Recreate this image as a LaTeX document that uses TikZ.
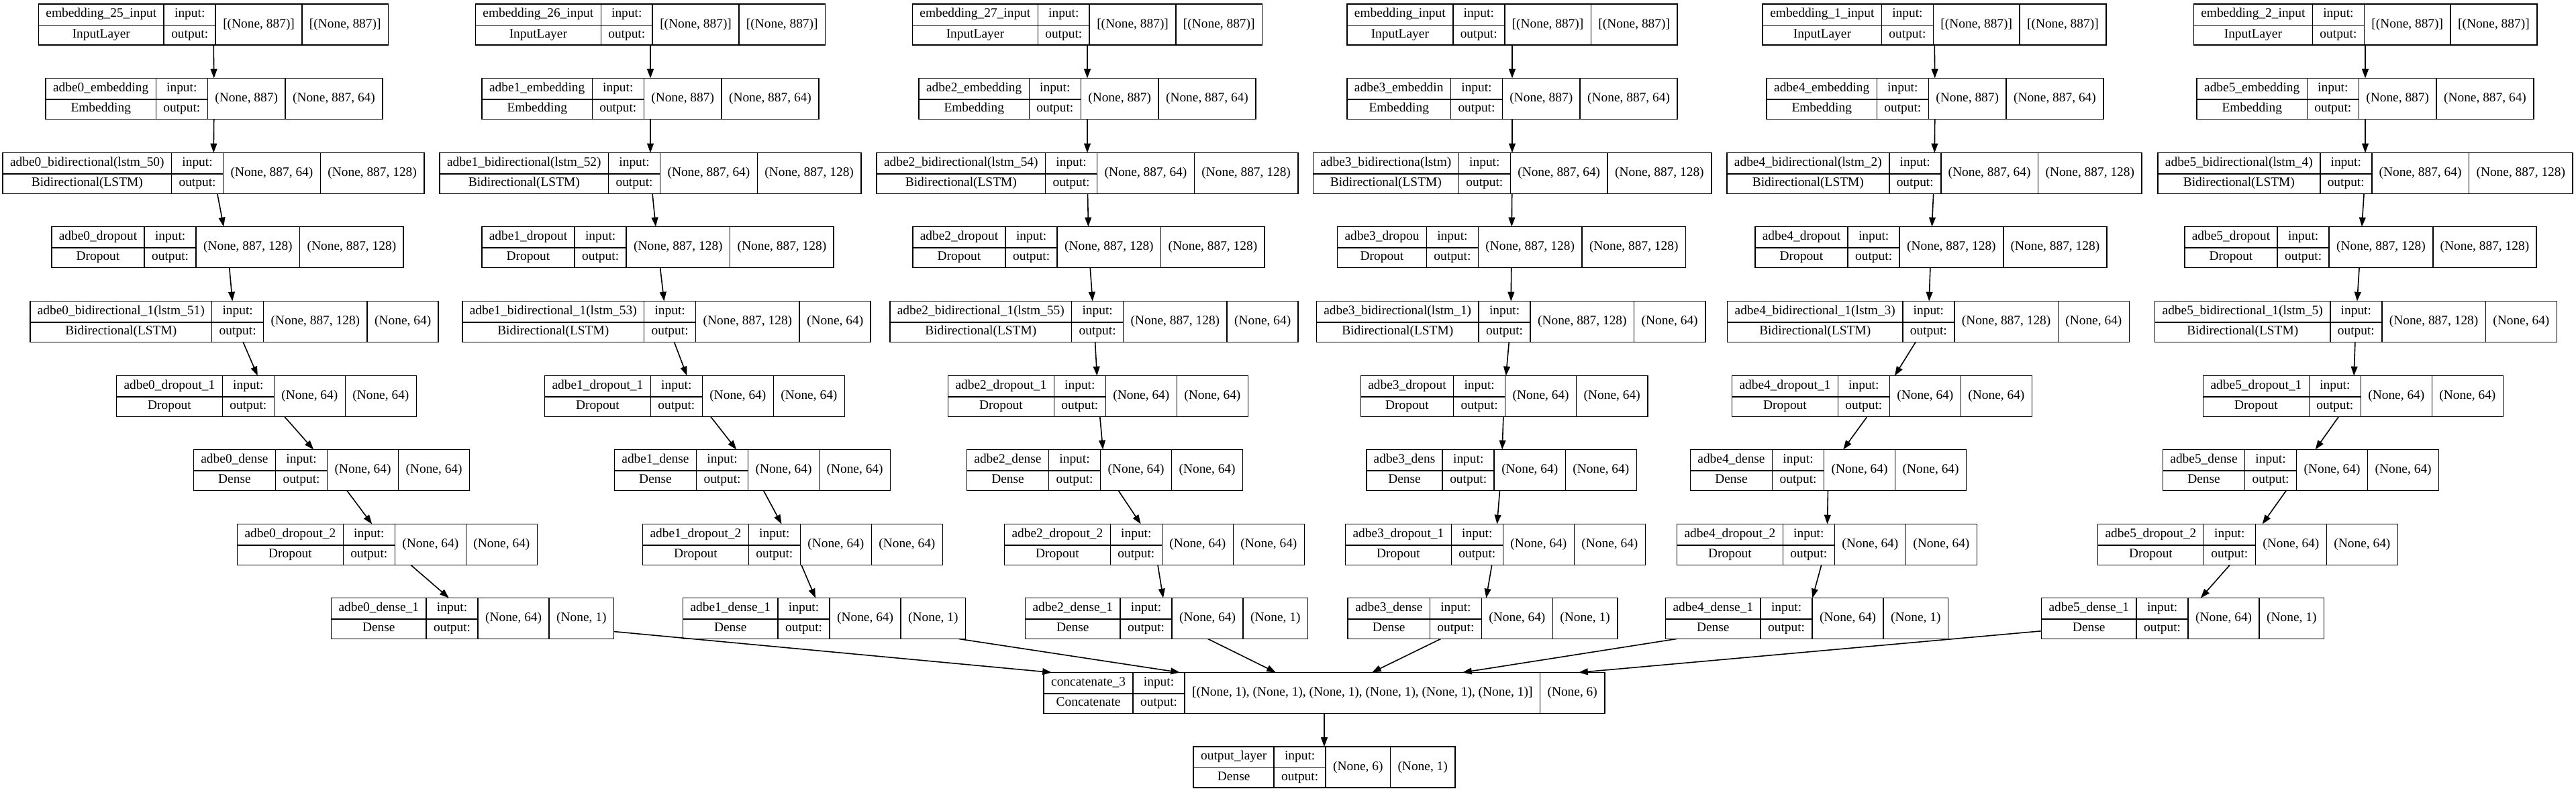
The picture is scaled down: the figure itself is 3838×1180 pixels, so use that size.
\documentclass[tikz,border=0pt]{standalone}
\usepackage{fontspec}
\setmainfont{Liberation Serif}
\usetikzlibrary{arrows.meta}

\setlength{\tabcolsep}{5.5pt}
\setlength{\arrayrulewidth}{0.8pt}
\newcommand{\rowstrut}{\rule[-5.35pt]{0pt}{15.25pt}}
\newcommand{\shp}[1]{\raisebox{-7.65pt}[0pt][0pt]{#1}}
\newcommand{\lyr}[4]{\begin{tabular}{c|c|c|c}
  \rowstrut#1 & input: & \shp{#3} & \shp{#4}\\ \cline{1-2}
  \rowstrut#2 & output: & & \end{tabular}}

\begin{document}
\begin{tikzpicture}[x=0.5pt,y=-0.5pt]
  \tikzstyle{layer}=[draw,line width=0.8pt,inner sep=0pt,outer sep=0pt,font=\fontsize{9.7}{11.6}\selectfont]
  \tikzstyle{every edge}=[draw,line width=0.8pt,-{Triangle[length=6.9pt,width=4.9pt]}]
  \useasboundingbox (0,0) rectangle (3838,1180);

  % branch 0
  \draw (318,36.5) node[layer] (inp0) {\lyr{embedding\_25\_input}{InputLayer}{[(None, 887)]}{[(None, 887)]}};
  \draw (319,147) node[layer] (emb0) {\lyr{adbe0\_embedding}{Embedding}{(None, 887)}{(None, 887, 64)}};
  \draw (318,258) node[layer] (bia0) {\lyr{adbe0\_bidirectional(lstm\_50)}{Bidirectional(LSTM)}{(None, 887, 64)}{(None, 887, 128)}};
  \draw (339,368) node[layer] (dra0) {\lyr{adbe0\_dropout}{Dropout}{(None, 887, 128)}{(None, 887, 128)}};
  \draw (349,479) node[layer] (bib0) {\lyr{adbe0\_bidirectional\_1(lstm\_51)}{Bidirectional(LSTM)}{(None, 887, 128)}{(None, 64)}};
  \draw (397,590) node[layer] (drb0) {\lyr{adbe0\_dropout\_1}{Dropout}{(None, 64)}{(None, 64)}};
  \draw (494,700) node[layer] (dea0) {\lyr{adbe0\_dense}{Dense}{(None, 64)}{(None, 64)}};
  \draw (577,811) node[layer] (drc0) {\lyr{adbe0\_dropout\_2}{Dropout}{(None, 64)}{(None, 64)}};
  \draw (704,921) node[layer] (deb0) {\lyr{adbe0\_dense\_1}{Dense}{(None, 64)}{(None, 1)}};

  % branch 1
  \draw (969,36.5) node[layer] (inp1) {\lyr{embedding\_26\_input}{InputLayer}{[(None, 887)]}{[(None, 887)]}};
  \draw (969,147) node[layer] (emb1) {\lyr{adbe1\_embedding}{Embedding}{(None, 887)}{(None, 887, 64)}};
  \draw (969,258) node[layer] (bia1) {\lyr{adbe1\_bidirectional(lstm\_52)}{Bidirectional(LSTM)}{(None, 887, 64)}{(None, 887, 128)}};
  \draw (980,368) node[layer] (dra1) {\lyr{adbe1\_dropout}{Dropout}{(None, 887, 128)}{(None, 887, 128)}};
  \draw (993,479) node[layer] (bib1) {\lyr{adbe1\_bidirectional\_1(lstm\_53)}{Bidirectional(LSTM)}{(None, 887, 128)}{(None, 64)}};
  \draw (1035,590) node[layer] (drb1) {\lyr{adbe1\_dropout\_1}{Dropout}{(None, 64)}{(None, 64)}};
  \draw (1121,700) node[layer] (dea1) {\lyr{adbe1\_dense}{Dense}{(None, 64)}{(None, 64)}};
  \draw (1181,811) node[layer] (drc1) {\lyr{adbe1\_dropout\_2}{Dropout}{(None, 64)}{(None, 64)}};
  \draw (1228,921) node[layer] (deb1) {\lyr{adbe1\_dense\_1}{Dense}{(None, 64)}{(None, 1)}};

  % branch 2
  \draw (1620,36.5) node[layer] (inp2) {\lyr{embedding\_27\_input}{InputLayer}{[(None, 887)]}{[(None, 887)]}};
  \draw (1620,147) node[layer] (emb2) {\lyr{adbe2\_embedding}{Embedding}{(None, 887)}{(None, 887, 64)}};
  \draw (1620,258) node[layer] (bia2) {\lyr{adbe2\_bidirectional(lstm\_54)}{Bidirectional(LSTM)}{(None, 887, 64)}{(None, 887, 128)}};
  \draw (1622,368) node[layer] (dra2) {\lyr{adbe2\_dropout}{Dropout}{(None, 887, 128)}{(None, 887, 128)}};
  \draw (1630,479) node[layer] (bib2) {\lyr{adbe2\_bidirectional\_1(lstm\_55)}{Bidirectional(LSTM)}{(None, 887, 128)}{(None, 64)}};
  \draw (1636,590) node[layer] (drb2) {\lyr{adbe2\_dropout\_1}{Dropout}{(None, 64)}{(None, 64)}};
  \draw (1646,700) node[layer] (dea2) {\lyr{adbe2\_dense}{Dense}{(None, 64)}{(None, 64)}};
  \draw (1720,811) node[layer] (drc2) {\lyr{adbe2\_dropout\_2}{Dropout}{(None, 64)}{(None, 64)}};
  \draw (1738,921) node[layer] (deb2) {\lyr{adbe2\_dense\_1}{Dense}{(None, 64)}{(None, 1)}};

  % branch 3
  \draw (2253,36.5) node[layer] (inp3) {\lyr{embedding\_input}{InputLayer}{[(None, 887)]}{[(None, 887)]}};
  \draw (2253,147) node[layer] (emb3) {\lyr{adbe3\_embeddin}{Embedding}{(None, 887)}{(None, 887, 64)}};
  \draw (2253,258) node[layer] (bia3) {\lyr{adbe3\_bidirectiona(lstm)}{Bidirectional(LSTM)}{(None, 887, 64)}{(None, 887, 128)}};
  \draw (2252,368) node[layer] (dra3) {\lyr{adbe3\_dropou}{Dropout}{(None, 887, 128)}{(None, 887, 128)}};
  \draw (2251,479) node[layer] (bib3) {\lyr{adbe3\_bidirectional(lstm\_1)}{Bidirectional(LSTM)}{(None, 887, 128)}{(None, 64)}};
  \draw (2241,590) node[layer] (drb3) {\lyr{adbe3\_dropout}{Dropout}{(None, 64)}{(None, 64)}};
  \draw (2237,700) node[layer] (dea3) {\lyr{adbe3\_dens}{Dense}{(None, 64)}{(None, 64)}};
  \draw (2228,811) node[layer] (drc3) {\lyr{adbe3\_dropout\_1}{Dropout}{(None, 64)}{(None, 64)}};
  \draw (2209,921) node[layer] (deb3) {\lyr{adbe3\_dense}{Dense}{(None, 64)}{(None, 1)}};

  % branch 4
  \draw (2882,36.5) node[layer] (inp4) {\lyr{embedding\_1\_input}{InputLayer}{[(None, 887)]}{[(None, 887)]}};
  \draw (2883,147) node[layer] (emb4) {\lyr{adbe4\_embedding}{Embedding}{(None, 887)}{(None, 887, 64)}};
  \draw (2882,258) node[layer] (bia4) {\lyr{adbe4\_bidirectional(lstm\_2)}{Bidirectional(LSTM)}{(None, 887, 64)}{(None, 887, 128)}};
  \draw (2877,368) node[layer] (dra4) {\lyr{adbe4\_dropout}{Dropout}{(None, 887, 128)}{(None, 887, 128)}};
  \draw (2873,479) node[layer] (bib4) {\lyr{adbe4\_bidirectional\_1(lstm\_3)}{Bidirectional(LSTM)}{(None, 887, 128)}{(None, 64)}};
  \draw (2804,590) node[layer] (drb4) {\lyr{adbe4\_dropout\_1}{Dropout}{(None, 64)}{(None, 64)}};
  \draw (2724,700) node[layer] (dea4) {\lyr{adbe4\_dense}{Dense}{(None, 64)}{(None, 64)}};
  \draw (2722,811) node[layer] (drc4) {\lyr{adbe4\_dropout\_2}{Dropout}{(None, 64)}{(None, 64)}};
  \draw (2692,921) node[layer] (deb4) {\lyr{adbe4\_dense\_1}{Dense}{(None, 64)}{(None, 1)}};

  % branch 5
  \draw (3524,36.5) node[layer] (inp5) {\lyr{embedding\_2\_input}{InputLayer}{[(None, 887)]}{[(None, 887)]}};
  \draw (3524,147) node[layer] (emb5) {\lyr{adbe5\_embedding}{Embedding}{(None, 887)}{(None, 887, 64)}};
  \draw (3524,258) node[layer] (bia5) {\lyr{adbe5\_bidirectional(lstm\_4)}{Bidirectional(LSTM)}{(None, 887, 64)}{(None, 887, 128)}};
  \draw (3517,368) node[layer] (dra5) {\lyr{adbe5\_dropout}{Dropout}{(None, 887, 128)}{(None, 887, 128)}};
  \draw (3510,479) node[layer] (bib5) {\lyr{adbe5\_bidirectional\_1(lstm\_5)}{Bidirectional(LSTM)}{(None, 887, 128)}{(None, 64)}};
  \draw (3506,590) node[layer] (drb5) {\lyr{adbe5\_dropout\_1}{Dropout}{(None, 64)}{(None, 64)}};
  \draw (3428,700) node[layer] (dea5) {\lyr{adbe5\_dense}{Dense}{(None, 64)}{(None, 64)}};
  \draw (3349,811) node[layer] (drc5) {\lyr{adbe5\_dropout\_2}{Dropout}{(None, 64)}{(None, 64)}};
  \draw (3252,921) node[layer] (deb5) {\lyr{adbe5\_dense\_1}{Dense}{(None, 64)}{(None, 1)}};

  % merge
  \draw (1973,1032) node[layer] (cat) {\lyr{concatenate\_3}{Concatenate}{[(None, 1), (None, 1), (None, 1), (None, 1), (None, 1), (None, 1)]}{(None, 6)}};
  \draw (1973,1142.5) node[layer] (outl) {\lyr{output\_layer}{Dense}{(None, 6)}{(None, 1)}};

  \coordinate (k0) at (1567,1001.5);
  \coordinate (k1) at (1758,1001.5);
  \coordinate (k2) at (1901,1001.5);
  \coordinate (k3) at (2044,1001.5);
  \coordinate (k4) at (2179,1001.5);
  \coordinate (k5) at (2352,1001.5);

  \path (inp0) edge (emb0) (emb0) edge (bia0) (bia0) edge (dra0) (dra0) edge (bib0)
        (bib0) edge (drb0) (drb0) edge (dea0) (dea0) edge (drc0) (drc0) edge (deb0);
  \path (inp1) edge (emb1) (emb1) edge (bia1) (bia1) edge (dra1) (dra1) edge (bib1)
        (bib1) edge (drb1) (drb1) edge (dea1) (dea1) edge (drc1) (drc1) edge (deb1);
  \path (inp2) edge (emb2) (emb2) edge (bia2) (bia2) edge (dra2) (dra2) edge (bib2)
        (bib2) edge (drb2) (drb2) edge (dea2) (dea2) edge (drc2) (drc2) edge (deb2);
  \path (inp3) edge (emb3) (emb3) edge (bia3) (bia3) edge (dra3) (dra3) edge (bib3)
        (bib3) edge (drb3) (drb3) edge (dea3) (dea3) edge (drc3) (drc3) edge (deb3);
  \path (inp4) edge (emb4) (emb4) edge (bia4) (bia4) edge (dra4) (dra4) edge (bib4)
        (bib4) edge (drb4) (drb4) edge (dea4) (dea4) edge (drc4) (drc4) edge (deb4);
  \path (inp5) edge (emb5) (emb5) edge (bia5) (bia5) edge (dra5) (dra5) edge (bib5)
        (bib5) edge (drb5) (drb5) edge (dea5) (dea5) edge (drc5) (drc5) edge (deb5);

  \path (deb0) edge (k0);
  \path (deb1) edge (k1);
  \path (deb2) edge (k2);
  \path (deb3) edge (k3);
  \path (deb4) edge (k4);
  \path (deb5) edge (k5);
  \path (cat) edge (outl);

\end{tikzpicture}
\end{document}
